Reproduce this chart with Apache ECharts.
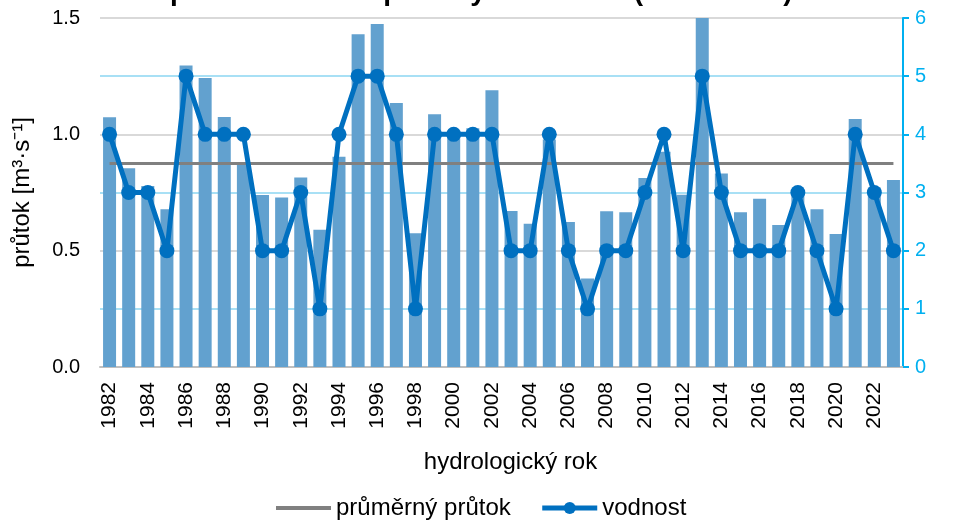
<!DOCTYPE html>
<html>
<head>
    <meta charset="utf-8">
    <title>průtok a vodnost</title>
    <script type="text/javascript" src="https://cdn.jsdelivr.net/npm/echarts@6/dist/echarts.min.js"></script>
    <style>
        html, body { margin: 0; padding: 0; background: #fff; }
        #container { width: 977px; height: 521px; }
    </style>
</head>
<body>
<div id="container"></div>
<script type="text/javascript">
    // hydrologické roky
    var years = [];
    for (var y = 1982; y <= 2023; y++) years.push(String(y));

    // roční průtok [m3/s] - levá osa
    var flow = [1.073, 0.854, 0.778, 0.678, 1.296, 1.242, 1.074, 0.87, 0.739, 0.728,
                0.815, 0.59, 0.904, 1.43, 1.474, 1.135, 0.575, 1.086, 1.0, 1.026,
                1.19, 0.67, 0.616, 0.978, 0.623, 0.38, 0.669, 0.665, 0.812, 0.925,
                0.74, 1.55, 0.832, 0.665, 0.723, 0.61, 0.75, 0.678, 0.572, 1.066,
                0.77, 0.804];

    // vodnost - pravá osa
    var vodnost = [4, 3, 3, 2, 5, 4, 4, 4, 2, 2,
                   3, 1, 4, 5, 5, 4, 1, 4, 4, 4,
                   4, 2, 2, 4, 2, 1, 2, 2, 3, 4,
                   2, 5, 3, 2, 2, 2, 3, 2, 1, 4,
                   3, 2];

    var avgFlow = 0.875;
    var avgLine = years.map(function () { return avgFlow; });

    var dom = document.getElementById('container');
    var myChart = echarts.init(dom, null, { renderer: 'canvas' });
    var font = 'Liberation Sans';

    var option = {
        animation: false,
        textStyle: { fontFamily: font },
        title: {
            text: 'Dlouhodobé průměrné roční průtoky a vodnost (1982–2023)',
            left: -6,
            top: -27,
            textStyle: { fontFamily: font, fontSize: 28, fontWeight: 'bold', color: '#000' }
        },
        legend: {
            bottom: -4,
            left: 271,
            itemWidth: 55,
            itemHeight: 15,
            itemGap: 29,
            data: [
                { name: 'průměrný průtok', icon: 'path://M0,0L55,0L55,4L0,4Z' },
                { name: 'vodnost', lineStyle: { width: 5 } }
            ],
            textStyle: { fontFamily: font, fontSize: 24, color: '#000' }
        },
        grid: { left: 100, right: 74, top: 18, bottom: 154 },
        xAxis: {
            type: 'category',
            data: years,
            name: 'hydrologický rok',
            nameLocation: 'middle',
            nameGap: 83,
            nameTextStyle: { fontSize: 24, color: '#000', padding: [0, 0, 0, 18] },
            axisLine: { lineStyle: { color: '#bfbfbf', width: 2 } },
            axisTick: { show: false },
            axisLabel: { interval: 1, rotate: 90, fontSize: 21, color: '#000', margin: 15 }
        },
        yAxis: [
            {
                type: 'value',
                min: 0,
                max: 1.5,
                interval: 0.25,
                name: 'průtok [m³·s⁻¹]',
                nameLocation: 'middle',
                nameGap: 66,
                nameTextStyle: { fontSize: 24, color: '#000' },
                axisLine: { show: false },
                axisTick: { show: false },
                axisLabel: {
                    fontSize: 20,
                    color: '#000',
                    margin: 20,
                    formatter: function (v) {
                        return Math.abs(v * 2 - Math.round(v * 2)) < 1e-6 ? v.toFixed(1) : '';
                    }
                },
                splitLine: { lineStyle: { color: ['#d9d9d9', '#a8e0f5'], width: 2 } }
            },
            {
                type: 'value',
                min: 0,
                max: 6,
                interval: 1,
                position: 'right',
                axisLine: { show: true, lineStyle: { color: '#00b0f0', width: 2 } },
                axisTick: { show: true, length: 6, lineStyle: { color: '#00b0f0', width: 2 } },
                axisLabel: { fontSize: 20, color: '#00b0f0', margin: 12 },
                splitLine: { show: false }
            }
        ],
        series: [
            {
                name: 'průtok',
                type: 'bar',
                data: flow,
                barWidth: 13,
                itemStyle: { color: '#62a1cf' },
                z: 1
            },
            {
                name: 'průměrný průtok',
                type: 'line',
                data: avgLine,
                symbol: 'none',
                lineStyle: { color: '#808080', width: 3 },
                itemStyle: { color: '#808080' },
                z: 2
            },
            {
                name: 'vodnost',
                type: 'line',
                yAxisIndex: 1,
                data: vodnost,
                symbol: 'circle',
                symbolSize: 15,
                showAllSymbol: true,
                lineStyle: { color: '#0070c0', width: 5 },
                itemStyle: { color: '#0070c0' },
                z: 3
            }
        ]
    };

    myChart.setOption(option);
    window.addEventListener('resize', myChart.resize);
</script>
</body>
</html>
